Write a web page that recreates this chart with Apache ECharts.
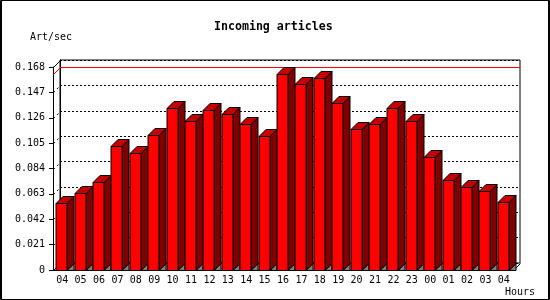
<!DOCTYPE html>
<html><head><meta charset="utf-8">
<script src="https://cdn.jsdelivr.net/npm/echarts@6/dist/echarts.min.js"></script>
<style>html,body{margin:0;padding:0;background:#fff}#c{width:550px;height:300px}</style>
</head><body><div id="c"></div>
<script>
const hours = ['04','05','06','07','08','09','10','11','12','13','14','15','16','17','18','19','20','21','22','23','00','01','02','03','04'];
const artPerSec = [0.0551,0.0634,0.0725,0.1030,0.0972,0.1121,0.1344,0.1231,0.1327,0.1294,0.1212,0.1105,0.1620,0.1537,0.1592,0.1386,0.1171,0.1212,0.1344,0.1237,0.0939,0.0741,0.0686,0.0650,0.0559];
const yTickLabels = ['0','0.021','0.042','0.063','0.084','0.105','0.126','0.147','0.168'];
const yStep = 0.021, yMax = 0.168;

const FONT = 'DejaVu Sans Mono';
const D = 7; // 3D depth in px
const chart = echarts.init(document.getElementById('c'), null, {renderer:'canvas'});

const yFmt = v => yTickLabels[Math.round(v / yStep)] || '';

const option = {
  animation: false,
  backgroundColor: '#fff',
  title: {
    text: 'Incoming articles', left: 214, top: 21, padding: 0,
    textStyle: {fontFamily: FONT, fontSize: 11.6, fontWeight: 'bold', color: '#000'}
  },
  grid: [
    {left: 53, top: 67, width: 460, height: 203, show: false},
    {left: 60, top: 60, width: 460, height: 203, show: true, borderColor: '#000', borderWidth: 1, backgroundColor: 'transparent'}
  ],
  xAxis: [
    {type: 'category', gridIndex: 0, data: hours,
     axisLine: {lineStyle: {color: '#000'}},
     axisTick: {length: 4, lineStyle: {color: '#000'}},
     axisLabel: {fontFamily: FONT, fontSize: 10, color: '#000', margin: 5, interval: 0}},
    {type: 'category', gridIndex: 1, data: hours, show: false}
  ],
  yAxis: [
    {type: 'value', gridIndex: 0, min: 0, max: yMax, interval: yStep,
     axisLine: {show: true, lineStyle: {color: '#000'}},
     axisTick: {show: true, length: 4, lineStyle: {color: '#000'}},
     axisLabel: {fontFamily: FONT, fontSize: 10, color: '#000', margin: 8, formatter: yFmt},
     splitLine: {show: false}},
    {type: 'value', gridIndex: 1, min: 0, max: yMax, interval: yStep,
     axisLine: {show: true, lineStyle: {color: '#000'}},
     axisTick: {show: false}, axisLabel: {show: false},
     splitLine: {show: true, lineStyle: {color: '#000', type: [2, 2], width: 1}}}
  ],
  series: [
    {type: 'custom', xAxisIndex: 0, yAxisIndex: 0, z: 5,
     data: artPerSec.map((v, i) => [i, v]),
     renderItem(params, api) {
       const i = api.value(0), v = api.value(1);
       const pt = api.coord([i, v]);
       const pb = api.coord([i, 0]);
       const cw = api.size([1, 0])[0];
       const bw = Math.round(cw * 0.6);
       const xc = Math.round(pt[0]);
       const x0 = xc - bw / 2 - 0.5 + (bw % 2 ? 0 : 0.5);
       const x1 = x0 + bw;
       const yt = Math.round(pt[1]) + 0.5;
       const yb = Math.round(pb[1]) + 0.5;
       const ls = {stroke: '#000', lineWidth: 1};
       return {type: 'group', children: [
         {type: 'polygon', shape: {points: [[x1, yb], [x1 + D, yb - D], [x1 + D, yb]]},
          style: Object.assign({fill: '#808080'}, ls)},
         {type: 'polygon', shape: {points: [[x1, yt], [x1 + D, yt - D], [x1 + D, yb - D], [x1, yb]]},
          style: Object.assign({fill: '#800000'}, ls)},
         {type: 'polygon', shape: {points: [[x0, yt], [x0 + D, yt - D], [x1 + D, yt - D], [x1, yt]]},
          style: Object.assign({fill: '#c40000'}, ls)},
         {type: 'rect', shape: {x: x0, y: yt, width: bw, height: yb - yt},
          style: Object.assign({fill: '#ff0000'}, ls)}
       ]};
     }}
  ]
};
chart.setOption(option);

// frame decorations computed from the axes
const maxVal = Math.max(...artPerSec);
const fx0 = 53.5, fx1 = 513.5, bx1 = 520;
const yF = v => Math.round(chart.convertToPixel({yAxisIndex: 0}, v)) + 0.5;
const yMaxF = yF(maxVal);
const gfx = [
  {type: 'rect', shape: {x: 0.5, y: 0.5, width: 549, height: 299}, style: {fill: null, stroke: '#000', lineWidth: 1}, z: 10},
  {type: 'line', shape: {x1: 1.5, y1: 0, x2: 1.5, y2: 300}, style: {stroke: '#000', lineWidth: 1}, z: 10},
  {type: 'line', shape: {x1: 548.5, y1: 0, x2: 548.5, y2: 300}, style: {stroke: '#000', lineWidth: 1}, z: 10},
  {type: 'text', x: 30, y: 37, style: {text: 'Art/sec', font: '10px "DejaVu Sans Mono"', fill: '#000', verticalAlign: 'middle'}},
  {type: 'text', x: 505, y: 292, style: {text: 'Hours', font: '10px "DejaVu Sans Mono"', fill: '#000', verticalAlign: 'middle'}},
  {type: 'line', z: 1, shape: {x1: fx0, y1: yF(yMax), x2: fx0 + D, y2: yF(yMax) - D}, style: {stroke: '#000', lineWidth: 1}},
  {type: 'line', z: 1, shape: {x1: fx1, y1: yF(0), x2: fx1 + D, y2: yF(0) - D}, style: {stroke: '#000', lineWidth: 1}},
  {type: 'line', z: 1, shape: {x1: fx0, y1: yF(0), x2: fx0 + D, y2: yF(0) - D}, style: {stroke: '#000', lineWidth: 1}},
  {type: 'polyline', z: 1, shape: {points: [[fx0, yMaxF], [fx0 + D, yMaxF - D], [bx1, yMaxF - D]]}, style: {stroke: '#ff0000', lineWidth: 1, fill: null}}
];
for (let k = 1; k < yTickLabels.length - 1; k++) {
  const y = yF(k * yStep);
  gfx.push({type: 'line', z: 1, shape: {x1: fx0, y1: y, x2: fx0 + D, y2: y - D}, style: {stroke: '#000', lineWidth: 1, lineDash: [2, 3]}});
}
chart.setOption({graphic: {elements: gfx}});
</script>
</body></html>
